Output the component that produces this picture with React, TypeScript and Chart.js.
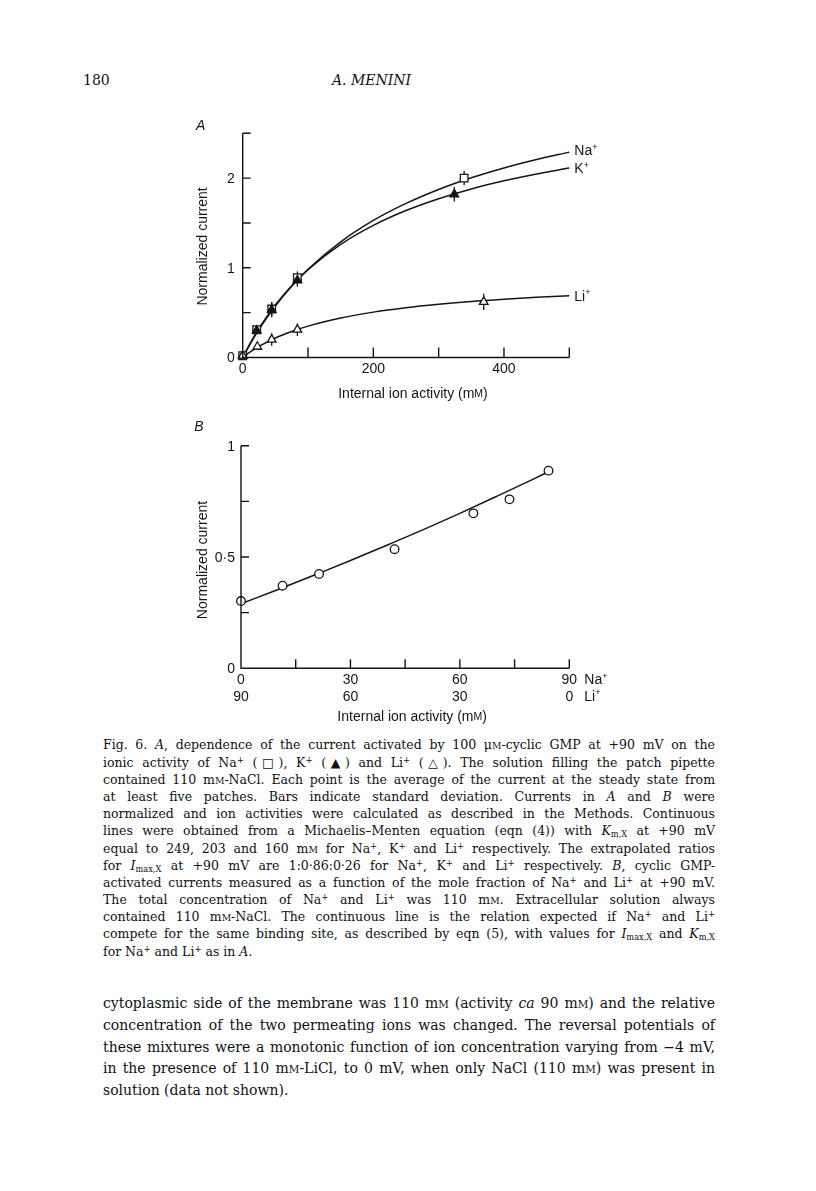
import React, { useEffect, useRef } from 'react';
import { Chart, registerables } from 'chart.js';

Chart.register(...registerables);

// ---------- Panel A data (internal ion activity, mM vs normalized current) ----------
const naX = [0, 21.4, 44.4, 83.7, 339];
const naY = [0.02, 0.31, 0.54, 0.89, 2.0];
const naErr = [0, 0, 0.08, 0.07, 0.08];
const kX = [0, 21.4, 44.4, 83.7, 324];
const kY = [0.02, 0.3, 0.53, 0.86, 1.82];
const kErr = [0, 0, 0.08, 0.07, 0.08];
const liX = [0, 22.4, 44.4, 83.7, 369];
const liY = [0.02, 0.12, 0.2, 0.31, 0.62];
const liErr = [0, 0, 0.07, 0.07, 0.09];
// continuous (fitted) lines
const fitX = [0, 10, 25, 50, 75, 100, 150, 200, 250, 300, 350, 400, 450, 500];
const naFit = [0, 0.132, 0.313, 0.574, 0.794, 0.983, 1.289, 1.528, 1.718, 1.874, 2.004, 2.114, 2.208, 2.29];
const kFit = [0, 0.139, 0.326, 0.587, 0.801, 0.98, 1.262, 1.474, 1.639, 1.771, 1.88, 1.97, 2.047, 2.112];
const liFit = [0, 0.054, 0.123, 0.217, 0.29, 0.35, 0.44, 0.506, 0.555, 0.593, 0.625, 0.65, 0.671, 0.689];
const ionNames = ['Na', 'K', 'Li'];
const aXMin = 0;
const aXMax = 500;
const aYMin = 0;
const aYMax = 2.5;
const aXTicks = [100, 200, 300, 400, 500];
const aXLabels = [0, 200, 400];
const aYTicks = [0.5, 1, 1.5, 2, 2.5];
const aYLabels = [0, 1, 2];

// ---------- Panel B data (mole fraction Na/Li) ----------
const bNaX = [0, 11.4, 21.4, 42.1, 63.7, 73.6, 84.3];
const bY = [0.302, 0.371, 0.424, 0.535, 0.696, 0.759, 0.888];
const bFitX = [0, 10, 20, 30, 40, 50, 60, 70, 80, 84.3];
const bFitY = [0.29, 0.353, 0.418, 0.484, 0.553, 0.623, 0.696, 0.772, 0.849, 0.883];
const bXMin = 0;
const bXMax = 90;
const bYMin = 0;
const bYMax = 1;
const bXTicks = [15, 30, 45, 60, 75, 90];
const bNaLabels = [0, 30, 60, 90];
const bLiLabels = ['90', '60', '30', '0'];
const bYTicks = [0.25, 0.5, 0.75, 1];
const bYLabels = ['0', '0·5', '1'];
const bYLabelValues = [0, 0.5, 1];

const INK = '#151515';
const SANS = '"Liberation Sans", Arial, sans-serif';
const SERIF = '"DejaVu Serif", "Liberation Serif", serif';

const pts = (xs: number[], ys: number[]) => xs.map((x, i) => ({ x, y: ys[i] }));

type Run = { t: string; size: number; dy?: number; style?: string };

function drawRuns(ctx: CanvasRenderingContext2D, runs: Run[], x: number, y: number, align: 'left' | 'center' | 'right') {
  let total = 0;
  const widths = runs.map((r) => {
    ctx.font = `${r.style || ''} ${r.size}px ${SANS}`;
    const w = ctx.measureText(r.t).width;
    total += w;
    return w;
  });
  let cx = align === 'left' ? x : align === 'center' ? x - total / 2 : x - total;
  ctx.textAlign = 'left';
  ctx.textBaseline = 'middle';
  runs.forEach((r, i) => {
    ctx.font = `${r.style || ''} ${r.size}px ${SANS}`;
    ctx.fillText(r.t, cx, y + (r.dy || 0));
    cx += widths[i];
  });
}

const titleRuns: Run[] = [
  { t: 'Internal ion activity (m', size: 14 },
  { t: 'M', size: 10.5 },
  { t: ')', size: 14 },
];

function drawErrBars(chart: any, xs: number[], ys: number[], errs: number[]) {
  const ctx = chart.ctx;
  const sx = chart.scales.x;
  const sy = chart.scales.y;
  ctx.save();
  ctx.strokeStyle = INK;
  ctx.lineWidth = 1.3;
  xs.forEach((x, i) => {
    if (!errs[i]) return;
    const px = sx.getPixelForValue(x);
    ctx.beginPath();
    ctx.moveTo(px, sy.getPixelForValue(ys[i] - errs[i]));
    ctx.lineTo(px, sy.getPixelForValue(ys[i] + errs[i]));
    ctx.stroke();
  });
  ctx.restore();
}

function drawFrame(chart: any, xMin: number, xMax: number, yMin: number, yMax: number, xTicks: number[], yTicks: number[], xTickLen: number, yTickLen: number) {
  const ctx = chart.ctx;
  const sx = chart.scales.x;
  const sy = chart.scales.y;
  const x0 = sx.getPixelForValue(xMin);
  const x1 = sx.getPixelForValue(xMax);
  const y0 = sy.getPixelForValue(yMin);
  const y1 = sy.getPixelForValue(yMax);
  ctx.save();
  ctx.strokeStyle = INK;
  ctx.lineWidth = 1.4;
  ctx.beginPath();
  ctx.moveTo(x0, y1);
  ctx.lineTo(x0, y0);
  ctx.lineTo(x1, y0);
  yTicks.forEach((v) => {
    const py = sy.getPixelForValue(v);
    ctx.moveTo(x0, py);
    ctx.lineTo(x0 + yTickLen, py);
  });
  xTicks.forEach((v) => {
    const px = sx.getPixelForValue(v);
    ctx.moveTo(px, y0);
    ctx.lineTo(px, y0 - xTickLen);
  });
  ctx.stroke();
  ctx.restore();
  return { x0, x1, y0, y1 };
}

function drawYTitle(ctx: CanvasRenderingContext2D, x: number, y: number) {
  ctx.save();
  ctx.translate(x, y);
  ctx.rotate(-Math.PI / 2);
  ctx.fillStyle = INK;
  ctx.font = `14px ${SANS}`;
  ctx.textAlign = 'center';
  ctx.textBaseline = 'middle';
  ctx.fillText('Normalized current', 0, 0);
  ctx.restore();
}

const panelAPlugin = {
  id: 'panelA',
  beforeDatasetsDraw(chart: any) {
    drawErrBars(chart, naX, naY, naErr);
    drawErrBars(chart, kX, kY, kErr);
    drawErrBars(chart, liX, liY, liErr);
  },
  afterDraw(chart: any) {
    const ctx = chart.ctx;
    const sx = chart.scales.x;
    const sy = chart.scales.y;
    const { x0, x1, y0, y1 } = drawFrame(chart, aXMin, aXMax, aYMin, aYMax, aXTicks, aYTicks, 10, 8);
    ctx.save();
    ctx.fillStyle = INK;
    ctx.font = `14px ${SANS}`;
    ctx.textAlign = 'right';
    ctx.textBaseline = 'middle';
    aYLabels.forEach((v) => ctx.fillText(String(v), x0 - 8, sy.getPixelForValue(v) + 1));
    ctx.textAlign = 'center';
    aXLabels.forEach((v) => ctx.fillText(String(v), sx.getPixelForValue(v), y0 + 12));
    ctx.fillStyle = INK;
    drawRuns(ctx, titleRuns, (x0 + x1) / 2 + 7, y0 + 37, 'center');
    drawYTitle(ctx, x0 - 40, (y0 + y1) / 2 + 1);
    ctx.fillStyle = INK;
    ctx.font = `italic 14px ${SANS}`;
    ctx.textAlign = 'center';
    ctx.textBaseline = 'middle';
    ctx.fillText('A', x0 - 42, y1 - 7);
    const ends = [naFit[naFit.length - 1], kFit[kFit.length - 1], liFit[liFit.length - 1]];
    ionNames.forEach((n, i) => {
      drawRuns(ctx, [{ t: n, size: 14 }, { t: '+', size: 9, dy: -4 }], x1 + 5, sy.getPixelForValue(ends[i]) + (i === 0 ? -1 : 1), 'left');
    });
    ctx.restore();
  },
};

const panelBPlugin = {
  id: 'panelB',
  afterDraw(chart: any) {
    const ctx = chart.ctx;
    const sx = chart.scales.x;
    const sy = chart.scales.y;
    const { x0, x1, y0, y1 } = drawFrame(chart, bXMin, bXMax, bYMin, bYMax, bXTicks, bYTicks, 9, 8);
    ctx.save();
    ctx.fillStyle = INK;
    ctx.font = `14px ${SANS}`;
    ctx.textAlign = 'right';
    ctx.textBaseline = 'middle';
    bYLabels.forEach((t, i) => ctx.fillText(t, x0 - 6, sy.getPixelForValue(bYLabelValues[i]) + 1));
    ctx.textAlign = 'center';
    bNaLabels.forEach((v) => ctx.fillText(String(v), sx.getPixelForValue(v), y0 + 12));
    bLiLabels.forEach((t, i) => ctx.fillText(t, sx.getPixelForValue(bNaLabels[i]), y0 + 28.5));
    drawRuns(ctx, [{ t: 'Na', size: 14 }, { t: '+', size: 9, dy: -4 }], x1 + 15, y0 + 12, 'left');
    drawRuns(ctx, [{ t: 'Li', size: 14 }, { t: '+', size: 9, dy: -4 }], x1 + 15, y0 + 28.5, 'left');
    drawRuns(ctx, titleRuns, (x0 + x1) / 2 + 7, y0 + 49, 'center');
    drawYTitle(ctx, x0 - 38, (y0 + y1) / 2 + 3);
    ctx.fillStyle = INK;
    ctx.font = `italic 14px ${SANS}`;
    ctx.textAlign = 'center';
    ctx.textBaseline = 'middle';
    ctx.fillText('B', x0 - 42, y1 - 19);
    ctx.restore();
  },
};

const baseOptions = (xMin: number, xMax: number, yMin: number, yMax: number, padding: any) => ({
  animation: false as const,
  responsive: false,
  maintainAspectRatio: false,
  devicePixelRatio: 1,
  events: [] as any[],
  layout: { padding },
  plugins: { legend: { display: false }, tooltip: { enabled: false } },
  scales: {
    x: { type: 'linear' as const, display: false, min: xMin, max: xMax },
    y: { type: 'linear' as const, display: false, min: yMin, max: yMax },
  },
});

const lineDs = (data: any[]) => ({
  type: 'line' as const,
  data,
  borderColor: INK,
  borderWidth: 1.5,
  pointRadius: 0,
  fill: false,
  tension: 0,
  cubicInterpolationMode: 'monotone' as const,
  clip: false as any,
  order: 1,
});

const markerDs = (data: any[], style: string, radius: number, filled: boolean) => ({
  type: 'scatter' as const,
  data,
  showLine: false,
  pointStyle: style,
  pointRadius: radius,
  pointBorderWidth: 1.3,
  pointBorderColor: INK,
  pointBackgroundColor: filled ? INK : '#ffffff',
  clip: false as any,
  order: 0,
});

function configA(): any {
  return {
    type: 'scatter',
    data: {
      datasets: [
        markerDs(pts(liX, liY), 'triangle', 5, false),
        markerDs(pts(kX, kY), 'triangle', 5, true),
        markerDs(pts(naX, naY), 'rect', 5.4, false),
        lineDs(pts(fitX, naFit)),
        lineDs(pts(fitX, kFit)),
        lineDs(pts(fitX, liFit)),
      ],
    },
    options: baseOptions(aXMin, aXMax, aYMin, aYMax, { left: 82.7, right: 50.7, top: 23.3, bottom: 52.5 }),
    plugins: [panelAPlugin],
  };
}

function configB(): any {
  return {
    type: 'scatter',
    data: {
      datasets: [
        markerDs(pts(bNaX, bY), 'circle', 4.3, false),
        lineDs(pts(bFitX, bFitY)),
      ],
    },
    options: baseOptions(bXMin, bXMax, bYMin, bYMax, { left: 81, right: 50.7, top: 25.7, bottom: 61.7 }),
    plugins: [panelBPlugin],
  };
}

function ChartCanvas({ make, left, top, width, height }: { make: () => any; left: number; top: number; width: number; height: number }) {
  const ref = useRef<HTMLCanvasElement | null>(null);
  useEffect(() => {
    if (!ref.current) return;
    const chart = new Chart(ref.current, make());
    return () => chart.destroy();
  }, []);
  return <canvas ref={ref} width={width} height={height} style={{ position: 'absolute', left, top, width, height }} />;
}

const SmallM = () => <span style={{ fontSize: '0.74em' }}>M</span>;
const MM = () => (
  <>
    m<SmallM />
  </>
);
const Sup = ({ c }: { c: string }) => <sup style={{ fontSize: '0.68em', lineHeight: 0, verticalAlign: '0.5em' }}>{c}</sup>;
const Sub = ({ c }: { c: string }) => <sub style={{ fontSize: '0.66em', lineHeight: 0, verticalAlign: '-0.3em' }}>{c}</sub>;
const I = ({ c }: { c: string }) => <i>{c}</i>;
const Na = () => (
  <>
    Na<Sup c="+" />
  </>
);
const K = () => (
  <>
    K<Sup c="+" />
  </>
);
const Li = () => (
  <>
    Li<Sup c="+" />
  </>
);

const captionLines: React.ReactNode[] = [
  <>Fig. 6. <I c="A" />, dependence of the current activated by 100 μ<SmallM />-cyclic GMP at +90 mV on the</>,
  <>ionic activity of <Na /> (□), <K /> (▲) and <Li /> (△). The solution filling the patch pipette</>,
  <>contained 110 <MM />-NaCl. Each point is the average of the current at the steady state from</>,
  <>at least five patches. Bars indicate standard deviation. Currents in <I c="A" /> and <I c="B" /> were</>,
  <>normalized and ion activities were calculated as described in the Methods. Continuous</>,
  <>lines were obtained from a Michaelis–Menten equation (eqn (4)) with <I c="K" /><Sub c="m,X" /> at +90 mV</>,
  <>equal to 249, 203 and 160 <MM /> for <Na />, <K /> and <Li /> respectively. The extrapolated ratios</>,
  <>for <I c="I" /><Sub c="max,X" /> at +90 mV are 1:0·86:0·26 for <Na />, <K /> and <Li /> respectively. <I c="B" />, cyclic GMP-</>,
  <>activated currents measured as a function of the mole fraction of <Na /> and <Li /> at +90 mV.</>,
  <>The total concentration of <Na /> and <Li /> was 110 <MM />. Extracellular solution always</>,
  <>contained 110 <MM />-NaCl. The continuous line is the relation expected if <Na /> and <Li /></>,
  <>compete for the same binding site, as described by eqn (5), with values for <I c="I" /><Sub c="max,X" /> and <I c="K" /><Sub c="m,X" /></>,
  <>for <Na /> and <Li /> as in <I c="A" />.</>,
];

const bodyLines: React.ReactNode[] = [
  <>cytoplasmic side of the membrane was 110 <MM /> (activity <I c="ca" /> 90 <MM />) and the relative</>,
  <>concentration of the two permeating ions was changed. The reversal potentials of</>,
  <>these mixtures were a monotonic function of ion concentration varying from −4 mV,</>,
  <>in the presence of 110 <MM />-LiCl, to 0 mV, when only NaCl (110 <MM />) was present in</>,
  <>solution (data not shown).</>,
];

function TextBlock({ lines, left, top, width, lineHeight, fontSize }: { lines: React.ReactNode[]; left: number; top: number; width: number; lineHeight: number; fontSize: number }) {
  return (
    <div style={{ position: 'absolute', left, top, width, fontFamily: SERIF, fontSize, color: '#111' }}>
      {lines.map((l, i) => (
        <div
          key={i}
          style={{
            height: lineHeight,
            lineHeight: `${lineHeight}px`,
            whiteSpace: 'nowrap',
            textAlign: 'justify',
            textAlignLast: i === lines.length - 1 ? 'left' : 'justify',
            overflow: 'visible',
          }}
        >
          {l}
        </div>
      ))}
    </div>
  );
}

export default function App() {
  return (
    <div style={{ position: 'absolute', left: 0, top: 0, width: 816, height: 1191, background: '#ffffff', overflow: 'hidden' }}>
      <div style={{ position: 'absolute', left: 83, top: 71, fontFamily: SERIF, fontSize: 14, lineHeight: '18px', color: '#111' }}>180</div>
      <div style={{ position: 'absolute', left: 332, top: 71, fontFamily: SERIF, fontSize: 14, lineHeight: '18px', fontStyle: 'italic', color: '#111' }}>A. MENINI</div>
      <ChartCanvas make={configA} left={160} top={110} width={460} height={300} />
      <ChartCanvas make={configB} left={160} top={420} width={460} height={310} />
      <TextBlock lines={captionLines} left={103} top={736.4} width={612} lineHeight={17.2} fontSize={12.5} />
      <TextBlock lines={bodyLines} left={103} top={993.2} width={612} lineHeight={21.7} fontSize={14} />
    </div>
  );
}
